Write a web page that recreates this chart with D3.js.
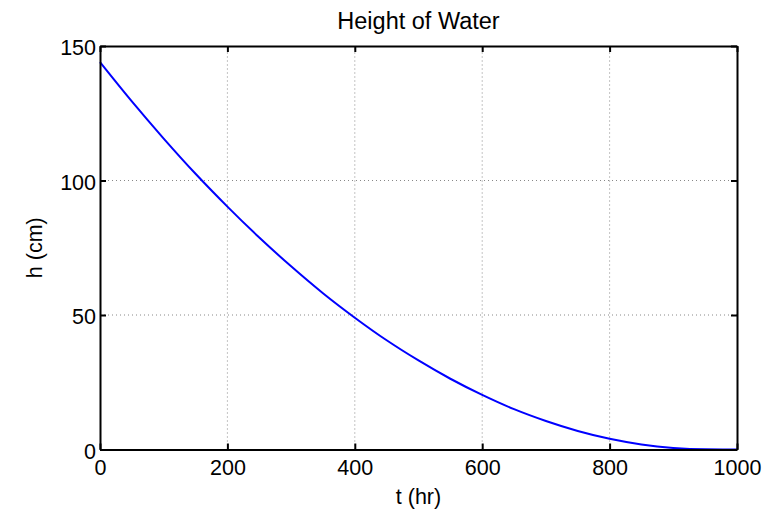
<!DOCTYPE html>
<html>
<head>
<meta charset="utf-8">
<script src="https://cdn.jsdelivr.net/npm/d3@7"></script>
<style>
  body { margin: 0; background: #fff; }
  svg { font-family: "Liberation Sans", Arial, sans-serif; }
  .grid line { stroke: #888; stroke-dasharray: 1,3; stroke-width: 1; }
</style>
</head>
<body>
<script>
// time (hr) and water height (cm)
var tValues = [0, 50, 100, 150, 200, 250, 300, 350, 400, 450, 500, 550, 600, 650, 700, 750, 800, 850, 900, 950, 1000];
var hValues = [144, 129.4, 115.6, 102.5, 90.3, 78.8, 68.1, 58.1, 49.0, 40.6, 33.1, 26.3, 20.3, 15.0, 10.6, 6.9, 4.0, 1.9, 0.6, 0.05, 0];
var xTicks = [0, 200, 400, 600, 800, 1000];
var yTicks = [0, 50, 100, 150];

var data = tValues.map((t, i) => ({ x: t, y: hValues[i] }));

var width = 777, height = 510;
var margin = ({ top: 46, right: 40, bottom: 60.5, left: 100 });

var svg = d3.select("body").append("svg").attr("width", width).attr("height", height);

var xScale = d3.scaleLinear().domain([0, 1000]).range([margin.left, width - margin.right]);
var yScale = d3.scaleLinear().domain([0, 150]).range([height - margin.bottom, margin.top]);

// dotted grid
var grid = svg.append("g").attr("class", "grid");
grid.selectAll(".gx").data(xTicks.slice(1, -1)).enter().append("line")
    .attr("x1", d => xScale(d)).attr("x2", d => xScale(d))
    .attr("y1", yScale(0)).attr("y2", yScale(150));
grid.selectAll(".gy").data(yTicks.slice(1, -1)).enter().append("line")
    .attr("x1", xScale(0)).attr("x2", xScale(1000))
    .attr("y1", d => yScale(d)).attr("y2", d => yScale(d));

// the curve
var line = d3.line().x(d => xScale(d.x)).y(d => yScale(d.y)).curve(d3.curveMonotoneX);
svg.append("path").datum(data)
    .attr("fill", "none").attr("stroke", "#0000ff").attr("stroke-width", 2)
    .attr("d", line);

// axes, ticks pointing inward, on all four sides
function styleAxis(g) {
    g.select(".domain").attr("stroke", "#000").attr("stroke-width", 2);
    g.selectAll(".tick line").attr("stroke", "#000").attr("stroke-width", 2);
    g.selectAll(".tick text").attr("fill", "#000").style("font-size", "21.5px");
}

svg.append("g").attr("transform", "translate(0," + yScale(0) + ")")
    .call(d3.axisBottom(xScale).tickValues(xTicks).tickFormat(d3.format("d")).tickSizeInner(-6).tickSizeOuter(0).tickPadding(10))
    .call(styleAxis);
svg.append("g").attr("transform", "translate(0," + yScale(150) + ")")
    .call(d3.axisTop(xScale).tickValues(xTicks).tickSizeInner(-6).tickSizeOuter(0).tickFormat(""))
    .call(styleAxis);
svg.append("g").attr("transform", "translate(" + xScale(0) + ",0)")
    .call(d3.axisLeft(yScale).tickValues(yTicks).tickSizeInner(-6).tickSizeOuter(0).tickPadding(4))
    .call(styleAxis)
    .selectAll(".tick text").attr("dy", "0.4em");
svg.append("g").attr("transform", "translate(" + xScale(1000) + ",0)")
    .call(d3.axisRight(yScale).tickValues(yTicks).tickSizeInner(-6).tickSizeOuter(0).tickFormat(""))
    .call(styleAxis);

// labels
svg.append("text").attr("x", (xScale(0) + xScale(1000)) / 2).attr("y", 29)
    .attr("text-anchor", "middle").style("font-size", "23.5px").text("Height of Water");
svg.append("text").attr("x", (xScale(0) + xScale(1000)) / 2).attr("y", 504)
    .attr("text-anchor", "middle").style("font-size", "21.5px").text("t (hr)");
svg.append("text").attr("transform", "translate(42," + ((yScale(0) + yScale(150)) / 2) + ") rotate(-90)")
    .attr("text-anchor", "middle").style("font-size", "21.5px").text("h (cm)");
</script>
</body>
</html>
